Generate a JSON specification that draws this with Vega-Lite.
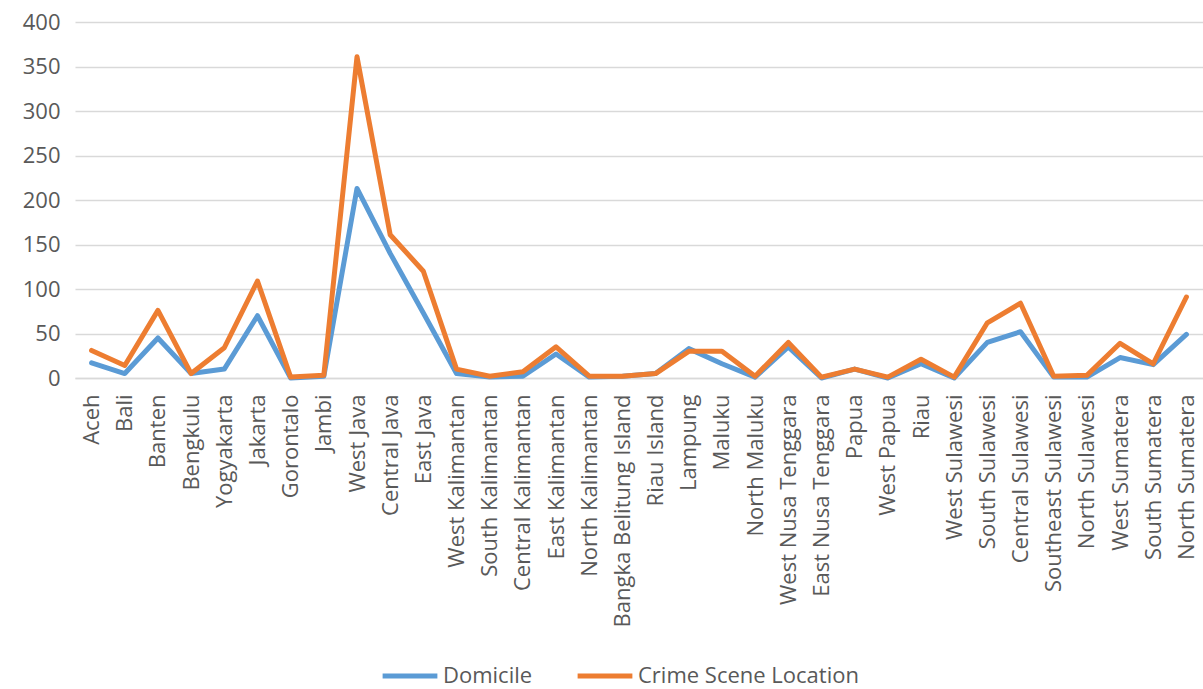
{
  "$schema": "https://vega.github.io/schema/vega-lite/v6.json",
  "width": 1128,
  "height": 356,
  "autosize": {"type": "none"},
  "padding": {"left": 75, "top": 22, "right": 0, "bottom": 311},
  "background": "white",
  "config": {
    "view": {"stroke": null},
    "font": "Open Sans"
  },
  "data": {
    "values": [
      {"province": "Aceh", "series": "Domicile", "value": 17},
      {"province": "Bali", "series": "Domicile", "value": 5},
      {"province": "Banten", "series": "Domicile", "value": 45},
      {"province": "Bengkulu", "series": "Domicile", "value": 5},
      {"province": "Yogyakarta", "series": "Domicile", "value": 10},
      {"province": "Jakarta", "series": "Domicile", "value": 70},
      {"province": "Gorontalo", "series": "Domicile", "value": 0},
      {"province": "Jambi", "series": "Domicile", "value": 2},
      {"province": "West Java", "series": "Domicile", "value": 213},
      {"province": "Central Java", "series": "Domicile", "value": 140},
      {"province": "East Java", "series": "Domicile", "value": 73},
      {"province": "West Kalimantan", "series": "Domicile", "value": 5},
      {"province": "South Kalimantan", "series": "Domicile", "value": 1},
      {"province": "Central Kalimantan", "series": "Domicile", "value": 2},
      {"province": "East Kalimantan", "series": "Domicile", "value": 27},
      {"province": "North Kalimantan", "series": "Domicile", "value": 1},
      {"province": "Bangka Belitung Island", "series": "Domicile", "value": 2},
      {"province": "Riau Island", "series": "Domicile", "value": 5},
      {"province": "Lampung", "series": "Domicile", "value": 33},
      {"province": "Maluku", "series": "Domicile", "value": 16},
      {"province": "North Maluku", "series": "Domicile", "value": 1},
      {"province": "West Nusa Tenggara", "series": "Domicile", "value": 35},
      {"province": "East Nusa Tenggara", "series": "Domicile", "value": 0},
      {"province": "Papua", "series": "Domicile", "value": 10},
      {"province": "West Papua", "series": "Domicile", "value": 0},
      {"province": "Riau", "series": "Domicile", "value": 16},
      {"province": "West Sulawesi", "series": "Domicile", "value": 0},
      {"province": "South Sulawesi", "series": "Domicile", "value": 40},
      {"province": "Central Sulawesi", "series": "Domicile", "value": 52},
      {"province": "Southeast Sulawesi", "series": "Domicile", "value": 1},
      {"province": "North Sulawesi", "series": "Domicile", "value": 1},
      {"province": "West Sumatera", "series": "Domicile", "value": 23},
      {"province": "South Sumatera", "series": "Domicile", "value": 15},
      {"province": "North Sumatera", "series": "Domicile", "value": 49},
      {"province": "Aceh", "series": "Crime Scene Location", "value": 31},
      {"province": "Bali", "series": "Crime Scene Location", "value": 14},
      {"province": "Banten", "series": "Crime Scene Location", "value": 76},
      {"province": "Bengkulu", "series": "Crime Scene Location", "value": 5},
      {"province": "Yogyakarta", "series": "Crime Scene Location", "value": 34},
      {"province": "Jakarta", "series": "Crime Scene Location", "value": 109},
      {"province": "Gorontalo", "series": "Crime Scene Location", "value": 1},
      {"province": "Jambi", "series": "Crime Scene Location", "value": 3},
      {"province": "West Java", "series": "Crime Scene Location", "value": 361},
      {"province": "Central Java", "series": "Crime Scene Location", "value": 161},
      {"province": "East Java", "series": "Crime Scene Location", "value": 120},
      {"province": "West Kalimantan", "series": "Crime Scene Location", "value": 10},
      {"province": "South Kalimantan", "series": "Crime Scene Location", "value": 2},
      {"province": "Central Kalimantan", "series": "Crime Scene Location", "value": 7},
      {"province": "East Kalimantan", "series": "Crime Scene Location", "value": 35},
      {"province": "North Kalimantan", "series": "Crime Scene Location", "value": 2},
      {"province": "Bangka Belitung Island", "series": "Crime Scene Location", "value": 2},
      {"province": "Riau Island", "series": "Crime Scene Location", "value": 5},
      {"province": "Lampung", "series": "Crime Scene Location", "value": 30},
      {"province": "Maluku", "series": "Crime Scene Location", "value": 30},
      {"province": "North Maluku", "series": "Crime Scene Location", "value": 2},
      {"province": "West Nusa Tenggara", "series": "Crime Scene Location", "value": 40},
      {"province": "East Nusa Tenggara", "series": "Crime Scene Location", "value": 1},
      {"province": "Papua", "series": "Crime Scene Location", "value": 10},
      {"province": "West Papua", "series": "Crime Scene Location", "value": 1},
      {"province": "Riau", "series": "Crime Scene Location", "value": 21},
      {"province": "West Sulawesi", "series": "Crime Scene Location", "value": 1},
      {"province": "South Sulawesi", "series": "Crime Scene Location", "value": 62},
      {"province": "Central Sulawesi", "series": "Crime Scene Location", "value": 84},
      {"province": "Southeast Sulawesi", "series": "Crime Scene Location", "value": 2},
      {"province": "North Sulawesi", "series": "Crime Scene Location", "value": 3},
      {"province": "West Sumatera", "series": "Crime Scene Location", "value": 39},
      {"province": "South Sumatera", "series": "Crime Scene Location", "value": 16},
      {"province": "North Sumatera", "series": "Crime Scene Location", "value": 91}
    ]
  },
  "mark": {"type": "line", "strokeWidth": 5, "strokeJoin": "round", "strokeCap": "round"},
  "encoding": {
    "x": {
      "field": "province",
      "type": "nominal",
      "sort": null,
      "scale": {"type": "point", "padding": 0.5},
      "axis": {
        "title": null,
        "labelAngle": -90,
        "labelFontSize": 22,
        "labelColor": "#595959",
        "labelPadding": 16,
        "labelLimit": 400,
        "ticks": false,
        "domain": true,
        "domainColor": "#d9d9d9",
        "domainWidth": 1.5,
        "grid": false
      }
    },
    "y": {
      "field": "value",
      "type": "quantitative",
      "scale": {"domain": [0, 400], "nice": false},
      "axis": {
        "title": null,
        "values": [0, 50, 100, 150, 200, 250, 300, 350, 400],
        "labelFontSize": 22,
        "labelColor": "#595959",
        "labelPadding": 15,
        "ticks": false,
        "domain": false,
        "grid": true,
        "gridColor": "#d9d9d9",
        "gridWidth": 1.5
      }
    },
    "color": {
      "field": "series",
      "type": "nominal",
      "sort": ["Domicile", "Crime Scene Location"],
      "scale": {"domain": ["Domicile", "Crime Scene Location"], "range": ["#5B9BD5", "#ED7D31"]},
      "legend": {
        "title": null,
        "orient": "none",
        "direction": "horizontal",
        "legendX": 305,
        "legendY": 624,
        "padding": 0,
        "symbolType": "stroke",
        "symbolSize": 3000,
        "symbolStrokeWidth": 5,
        "labelFontSize": 22,
        "labelColor": "#595959",
        "labelOffset": 3,
        "labelLimit": 400,
        "columnPadding": 34
      }
    }
  }
}
